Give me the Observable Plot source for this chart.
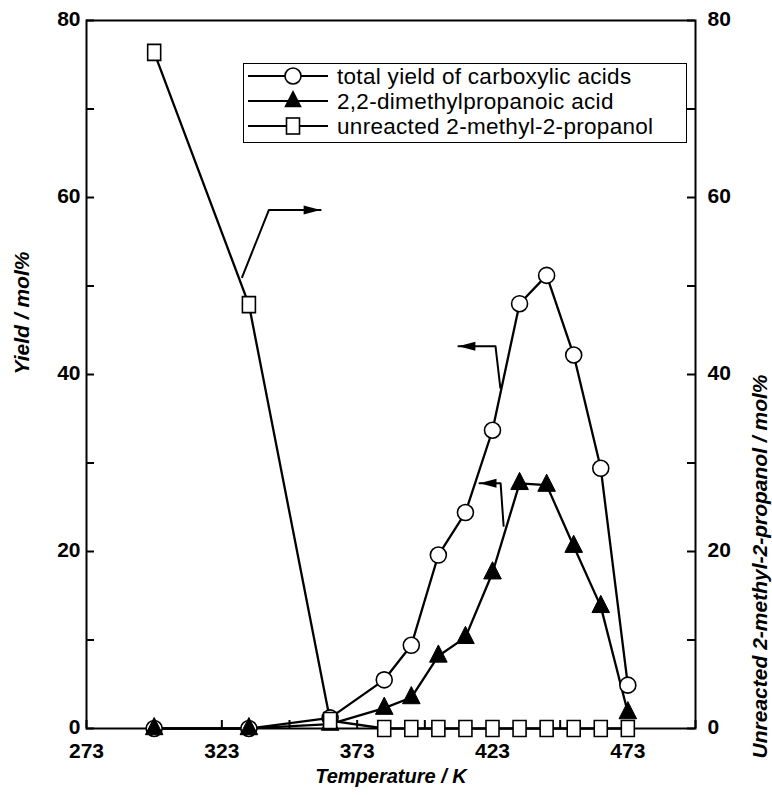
<!DOCTYPE html>
<html><head><meta charset="utf-8">
<script src="https://cdn.jsdelivr.net/npm/d3@7"></script>
<script src="https://cdn.jsdelivr.net/npm/@observablehq/plot@0.6"></script>
<style>
body{margin:0;background:#fff;}
#wrap{position:relative;width:772px;height:795px;}
#legend{position:absolute;left:243px;top:63px;width:444px;height:80px;border:1.5px solid #000;background:#fff;box-sizing:border-box;}
#legend svg{display:block;}
</style></head><body><div id="wrap"><div id="legend"></div></div>
<script>
// ---- data ----
const temps = [298, 333, 363, 383, 393, 403, 413, 423, 433, 443, 453, 463, 473];
const totalYield = [0, 0, 1.2, 5.5, 9.4, 19.6, 24.4, 33.7, 48.0, 51.2, 42.2, 29.4, 4.9];
const dmpaYield = [0, 0, 0.5, 2.3, 3.5, 8.2, 10.3, 17.6, 27.7, 27.5, 20.6, 13.8, 1.8];
const unreacted = [76.4, 47.9, 0.9, 0, 0, 0, 0, 0, 0, 0, 0, 0, 0];
const seriesNames = ["total yield of carboxylic acids", "2,2-dimethylpropanoic acid", "unreacted 2-methyl-2-propanol"];
const xTicks = [273, 298, 323, 348, 373, 398, 423, 448, 473, 498];
const xLabels = [273, 323, 373, 423, 473];
const yTicks = [0, 10, 20, 30, 40, 50, 60, 70, 80];
const yLabels = [0, 20, 40, 60, 80];
// annotation arrows (temperature, value): start on curve, bend, tip
const arrowUnreacted = [[330.5, 51.0], [340.4, 58.6], [359.5, 58.6]];
const arrowTotal = [[425.9, 38.5], [424.1, 43.2], [410.4, 43.2]];
const arrowDmpa = [[427.1, 22.9], [426.0, 27.7], [418.2, 27.7]];

const toRows = (vals) => temps.map((t, i) => ({t, v: vals[i]}));
const total = toRows(totalYield), dmpa = toRows(dmpaYield), unre = toRows(unreacted);

// symbols
const triSym = {draw(c){ c.moveTo(0,-11); c.lineTo(8.8,6.2); c.lineTo(-8.8,6.2); c.closePath(); }};
const sqSym = {draw(c){ c.rect(-6.5,-8,13,16); }};
const headRight = {draw(c){ c.moveTo(0,0); c.lineTo(-17,-4.5); c.lineTo(-17,4.5); c.closePath(); }};
const headLeft = {draw(c){ c.moveTo(0,0); c.lineTo(17,-4.5); c.lineTo(17,4.5); c.closePath(); }};

const W = 772, H = 795, mL = 86, mR = 77, mT = 20, mB = 67;
const innerW = W - mL - mR, innerH = H - mT - mB;
const FONT = "'Liberation Sans', Arial, Helvetica, sans-serif";

const arrowMarks = (pts, head) => [
  Plot.line(pts, {x: d => d[0], y: d => d[1], stroke: "black", strokeWidth: 2}),
  Plot.dot([pts[pts.length - 1]], {x: d => d[0], y: d => d[1], symbol: head, r: 5, fill: "black", stroke: "none"})
];

const chart = Plot.plot({
  width: W, height: H,
  marginLeft: mL, marginRight: mR, marginTop: mT, marginBottom: mB,
  x: {domain: [273, 498]},
  y: {domain: [0, 80]},
  style: {fontFamily: FONT, color: "#000", background: "#fff"},
  marks: [
    Plot.axisX({ticks: xLabels, tickSize: 0, tickPadding: 15, fontSize: 21, fontWeight: "bold", tickFormat: d => String(d), label: null}),
    Plot.axisY({anchor: "left", ticks: yLabels, tickSize: 0, tickPadding: 6, fontSize: 21, fontWeight: "bold", dy: -1, label: null}),
    Plot.axisY({anchor: "right", ticks: yLabels, tickSize: 0, tickPadding: 12, fontSize: 21, fontWeight: "bold", dy: -1, label: null}),
    Plot.tickX(xTicks, {x: d => d, insetTop: innerH - 8, stroke: "black", strokeWidth: 2}),
    Plot.tickY(yTicks, {y: d => d, insetRight: innerW - 8, stroke: "black", strokeWidth: 2}),
    Plot.tickY(yTicks, {y: d => d, insetLeft: innerW - 8, stroke: "black", strokeWidth: 2}),
    Plot.frame({stroke: "black", strokeWidth: 2}),
    ...arrowMarks(arrowUnreacted, headRight),
    ...arrowMarks(arrowTotal, headLeft),
    ...arrowMarks(arrowDmpa, headLeft),
    Plot.line(total, {x: "t", y: "v", stroke: "black", strokeWidth: 2.3}),
    Plot.line(dmpa, {x: "t", y: "v", stroke: "black", strokeWidth: 2.3}),
    Plot.line(unre, {x: "t", y: "v", stroke: "black", strokeWidth: 2.3}),
    Plot.dot(total, {x: "t", y: "v", r: 8, fill: "white", stroke: "black", strokeWidth: 1.6}),
    Plot.dot(dmpa, {x: "t", y: "v", symbol: triSym, r: 7, fill: "black", stroke: "black", strokeWidth: 1}),
    Plot.dot(unre, {x: "t", y: "v", symbol: sqSym, r: 7, fill: "white", stroke: "black", strokeWidth: 1.6}),
    Plot.text(["Temperature / K"], {frameAnchor: "bottom", dy: 54, fontSize: 20, fontWeight: "bold", fontStyle: "italic"}),
    Plot.text(["Yield / mol%"], {frameAnchor: "left", dx: -64, rotate: -90, fontSize: 21, fontWeight: "bold", fontStyle: "italic"}),
    Plot.text(["Unreacted 2-methyl-2-propanol / mol%"], {frameAnchor: "right", dx: 65, rotate: -90, fontSize: 21, fontWeight: "bold", fontStyle: "italic"})
  ]
});
const wrap = document.getElementById("wrap");
wrap.insertBefore(chart, wrap.firstChild);

// legend
const lg = d3.select("#legend").append("svg").attr("width", 441).attr("height", 77);
const kinds = ["circle", "triangle", "square"];
seriesNames.forEach((name, i) => {
  const g = lg.append("g").attr("transform", `translate(0, ${12 + i * 25})`);
  g.append("line").attr("x1", 4).attr("x2", 84).attr("y1", 0).attr("y2", 0).attr("stroke", "black").attr("stroke-width", 2);
  if (kinds[i] === "circle") g.append("circle").attr("cx", 49).attr("cy", 0).attr("r", 8).attr("fill", "white").attr("stroke", "black").attr("stroke-width", 1.6);
  if (kinds[i] === "triangle") g.append("path").attr("d", "M49,-11L57.8,6.2L40.2,6.2Z").attr("fill", "black");
  if (kinds[i] === "square") g.append("rect").attr("x", 42.5).attr("y", -8).attr("width", 13).attr("height", 16).attr("fill", "white").attr("stroke", "black").attr("stroke-width", 1.6);
  g.append("text").attr("x", 93).attr("y", 8).attr("font-family", FONT).attr("font-size", 22.5).attr("letter-spacing", "0.3px").text(name);
});
</script></body></html>
